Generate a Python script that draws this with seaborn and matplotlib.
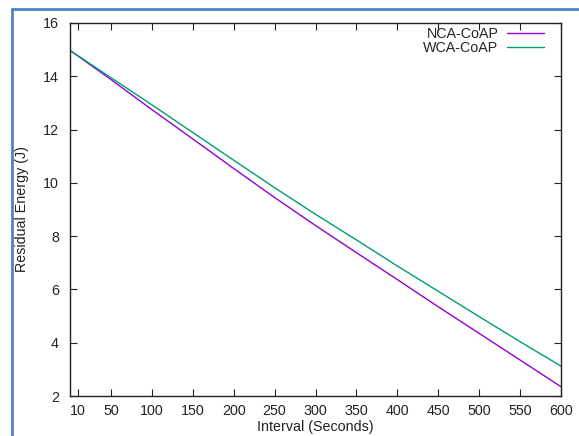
import matplotlib
matplotlib.use("Agg")
import matplotlib.pyplot as plt
import seaborn as sns
import pandas as pd
from matplotlib.lines import Line2D

# ---- data ----
interval = [1, 50, 100, 150, 200, 250, 300, 350, 400, 450, 500, 550, 600]
nca_coap = [14.95, 13.88, 12.75, 11.65, 10.54, 9.45, 8.40, 7.38, 6.37, 5.35, 4.35, 3.35, 2.35]
wca_coap = [14.95, 13.95, 12.93, 11.89, 10.85, 9.82, 8.82, 7.86, 6.88, 5.93, 4.98, 4.04, 3.12]
series_names = ["NCA-CoAP", "WCA-CoAP"]
x_ticks = [10, 50, 100, 150, 200, 250, 300, 350, 400, 450, 500, 550, 600]
y_ticks = [2, 4, 6, 8, 10, 12, 14, 16]

df = pd.DataFrame({
    "Interval": interval * 2,
    "Energy": nca_coap + wca_coap,
    "Series": [series_names[0]] * len(interval) + [series_names[1]] * len(interval),
})

sns.set_style("ticks")
plt.rcParams["font.family"] = ["Liberation Sans", "DejaVu Sans"]

fig = plt.figure(figsize=(5.79, 4.36), dpi=100)
fig.patch.set_facecolor("white")

# blue outer frame (partial, like the screenshot)
fig.add_artist(Line2D([12 / 579, 12 / 579], [0, 1 - 9 / 436], transform=fig.transFigure,
                      color="#4f82c8", lw=2.0))
fig.add_artist(Line2D([12 / 579, 1], [1 - 9 / 436, 1 - 9 / 436], transform=fig.transFigure,
                      color="#4f82c8", lw=2.0))

ax_w = 561 - 70
ax_h = 396 - 23
ax = fig.add_axes([70 / 579, 40 / 436, ax_w / 579, ax_h / 436])
palette = {"NCA-CoAP": "#9400d3", "WCA-CoAP": "#009e73"}
sns.lineplot(data=df, x="Interval", y="Energy", hue="Series", palette=palette,
             linewidth=1.0, ax=ax)

ax.set_xlim(0, 600)
ax.set_ylim(2, 16)
ax.set_xticks(x_ticks)
ax.set_yticks(y_ticks)
ax.tick_params(direction="in", top=True, right=True, length=5, width=0.8,
               labelsize=10.3, colors="#222222", labelcolor="#222222")
ax.tick_params(axis="x", pad=6)
ax.tick_params(axis="y", pad=8)
for s in ax.spines.values():
    s.set_visible(True)
    s.set_color("#222222")
    s.set_linewidth(1.0)

ax.set_xlabel("Interval (Seconds)", fontsize=10.3, color="#222222")
ax.set_ylabel("Residual Energy (J)", fontsize=10.3, color="#222222")
ax.yaxis.set_label_coords((22 - 70) / ax_w, 0.5)
ax.xaxis.set_label_coords(0.5, -(427 - 396) / ax_h)
ax.xaxis.label.set_va("center")
ax.yaxis.label.set_va("center")

leg = ax.legend(loc="upper right", markerfirst=False, frameon=False, fontsize=10.3,
                handlelength=2.6, handletextpad=0.6, labelspacing=0.05,
                borderaxespad=0.0,
                bbox_to_anchor=(1 - 11 / ax_w, 1 + 2 / ax_h), title=None)

fig.savefig("out.png", dpi=100, facecolor="white")
